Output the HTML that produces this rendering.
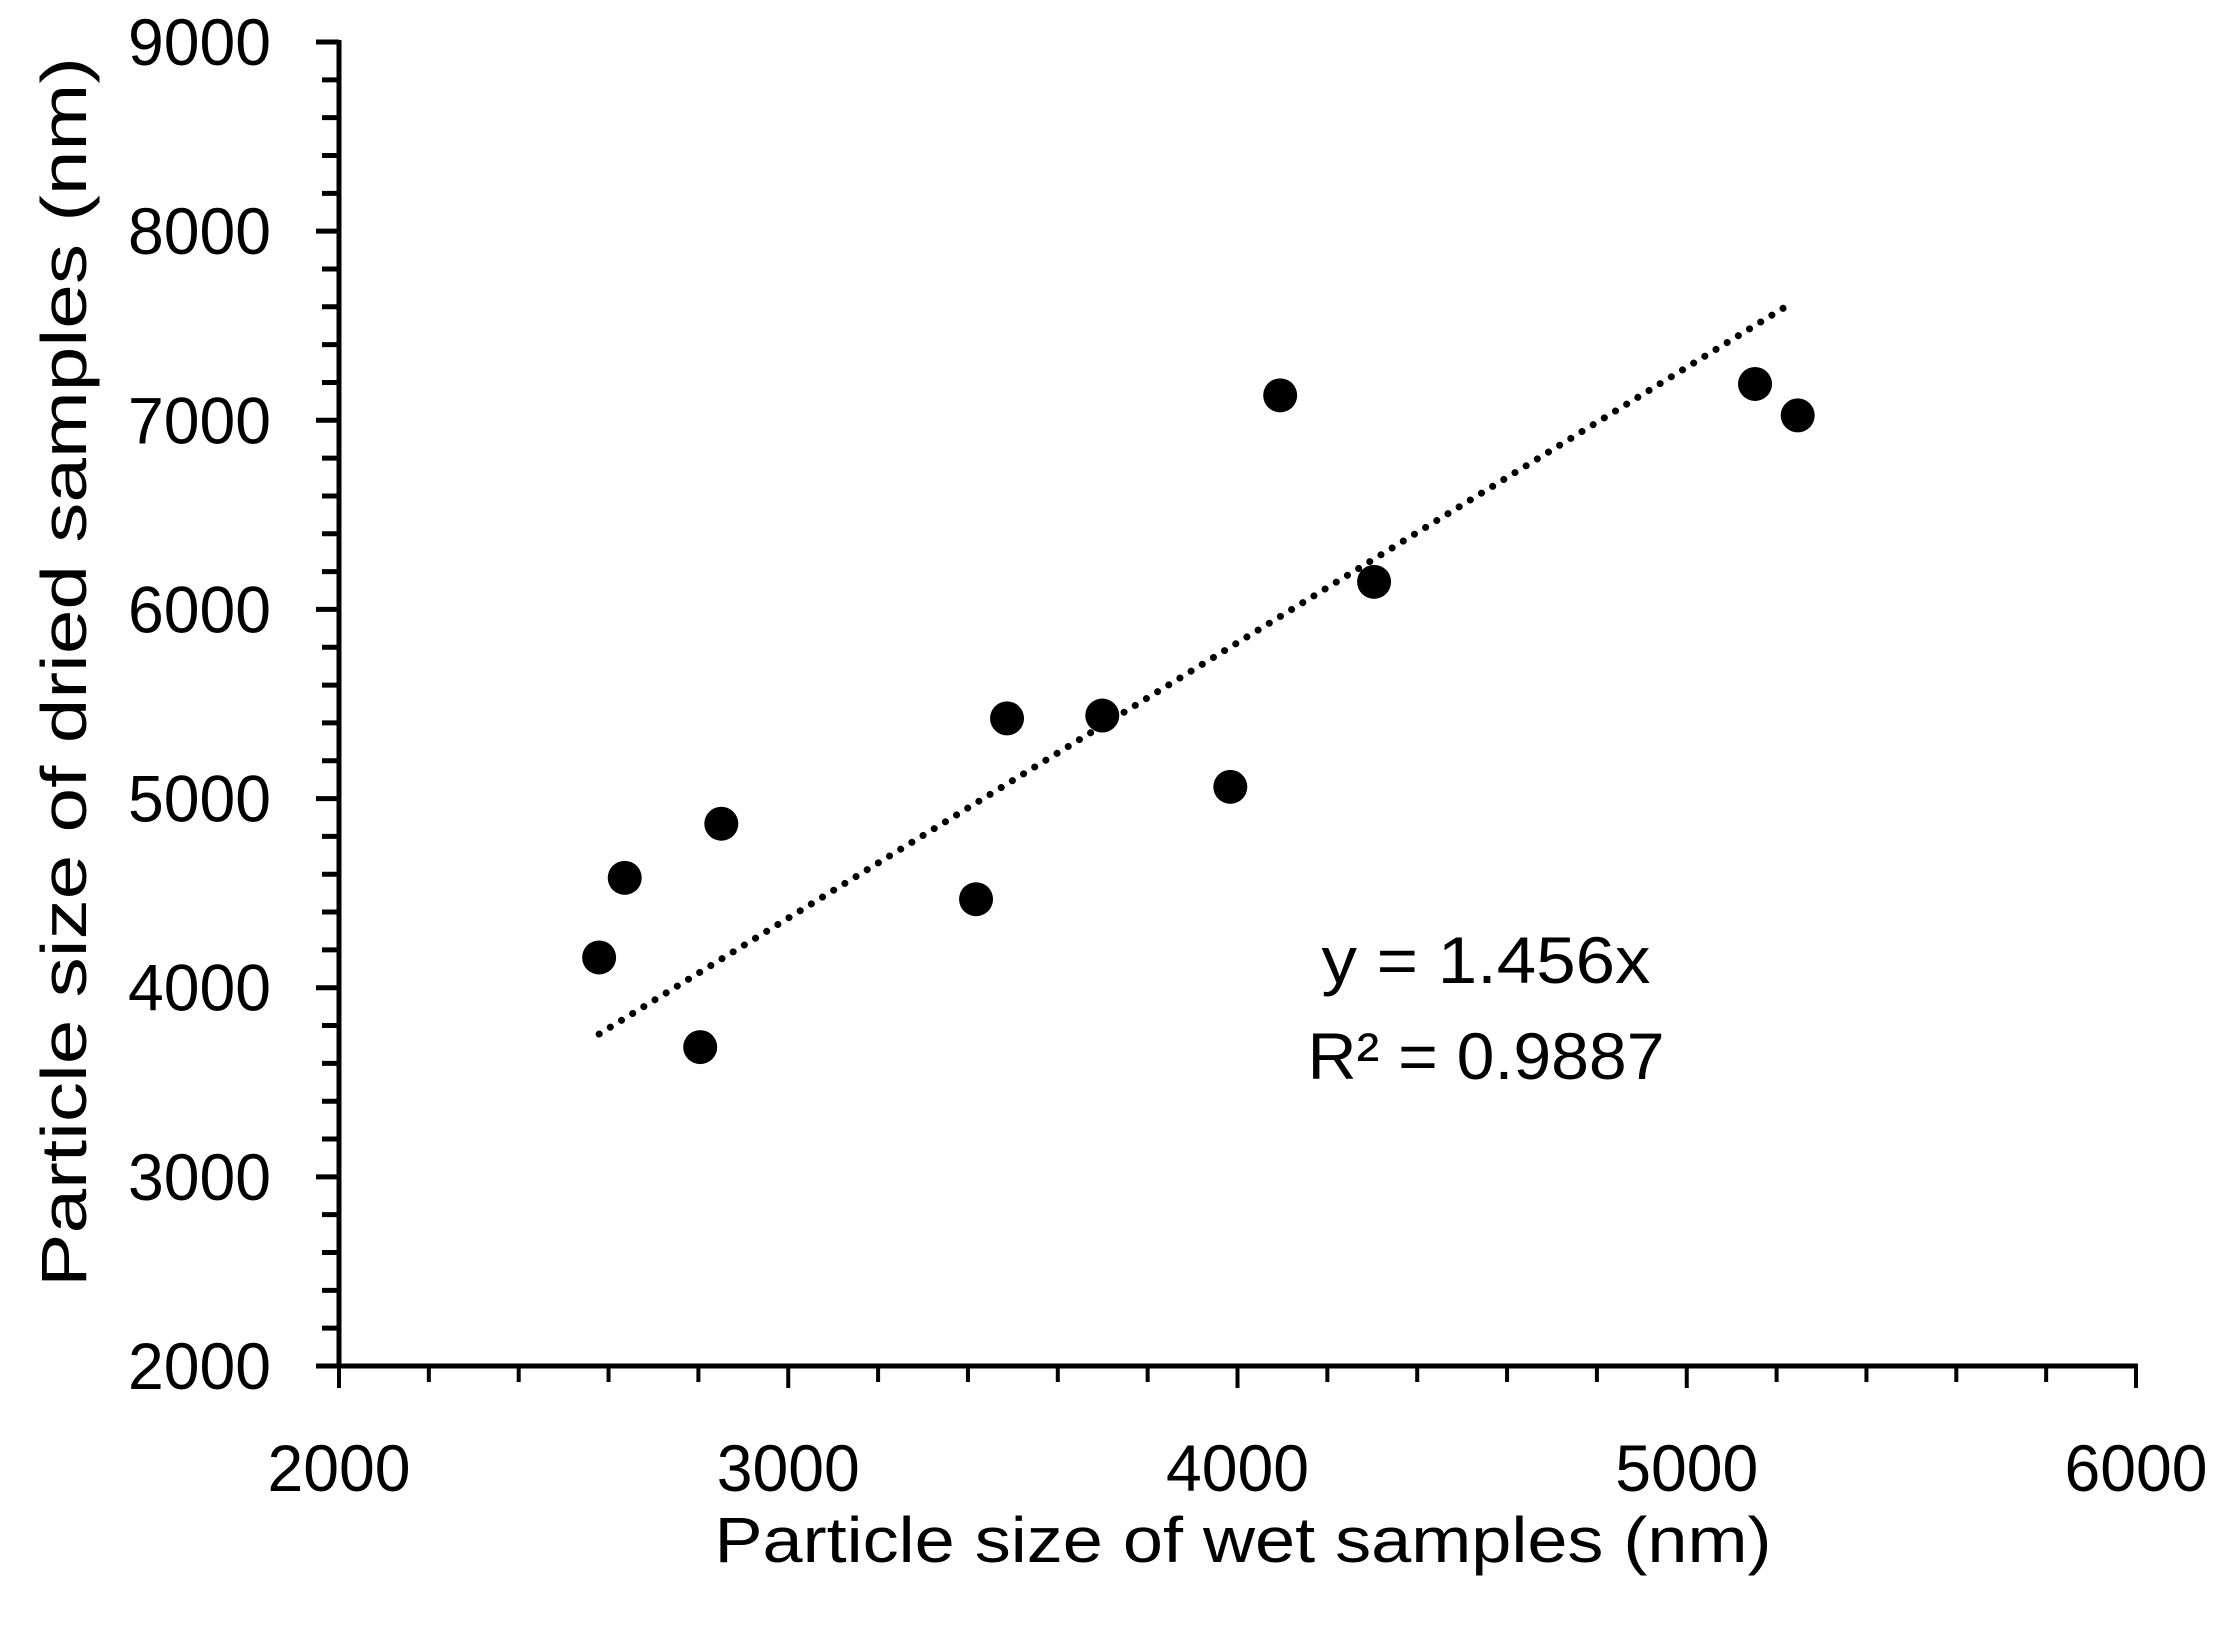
<!DOCTYPE html>
<html><head><meta charset="utf-8"><style>
html,body{margin:0;padding:0;background:#fff;}
svg text{font-family:"Liberation Sans",sans-serif;fill:#000;}
</style></head><body>
<svg id="chart" width="2229" height="1629" viewBox="0 0 2229 1629" xmlns="http://www.w3.org/2000/svg">
<g id="axes"></g>
<g id="trend"></g>
<g id="points"></g>
<text x="1243" y="1562" font-size="64" text-anchor="middle" textLength="1057" lengthAdjust="spacingAndGlyphs">Particle size of wet samples  (nm)</text>
<text x="0" y="0" font-size="64" text-anchor="middle" textLength="1230" lengthAdjust="spacingAndGlyphs" transform="translate(86,672) rotate(-90)">Particle size of dried samples  (nm)</text>
<text x="1486" y="983" font-size="66" text-anchor="middle" textLength="329" lengthAdjust="spacingAndGlyphs">y = 1.456x</text>
<text x="1486" y="1079" font-size="66" text-anchor="middle" textLength="357" lengthAdjust="spacingAndGlyphs">R² = 0.9887</text>
</svg>
<script>
const xValues = [2579, 2636, 2804, 2851, 3418, 3487, 3699, 3984, 4095, 4304, 5152, 5247];
const yValues = [4160, 4581, 3686, 4867, 4468, 5424, 5439, 5062, 7132, 6146, 7192, 7026];
const xTicks = [2000, 3000, 4000, 5000, 6000];
const yTicks = [2000, 3000, 4000, 5000, 6000, 7000, 8000, 9000];
const slope = 1.456;

const NS = "http://www.w3.org/2000/svg";
const X0 = 339, X1 = 2136, Y0 = 1366, Y1 = 42;
const sx = v => X0 + (v - 2000) / 4000 * (X1 - X0);
const sy = v => Y0 - (v - 2000) / 7000 * (Y0 - Y1);
function mk(tag, attrs, parent) {
  const e = document.createElementNS(NS, tag);
  for (const k in attrs) e.setAttribute(k, attrs[k]);
  parent.appendChild(e);
  return e;
}
const axes = document.getElementById('axes');
let l = mk('line', {x1: X0, y1: Y1 - 2, x2: X0, y2: Y0 + 2, stroke: '#000', 'stroke-width': 5}, axes);


l = mk('line', {x1: X0 - 2, y1: Y0, x2: X1 + 2, y2: Y0, stroke: '#000', 'stroke-width': 5}, axes);


for (let v = 2000; v <= 9000; v += 200) {
  const major = v % 1000 === 0;
  const t = mk('line', {x1: X0 - (major ? 23 : 17), y1: sy(v), x2: X0, y2: sy(v), stroke: '#000', 'stroke-width': 5}, axes);
  
  
}
for (let v = 2000; v <= 6000; v += 200) {
  const major = v % 1000 === 0;
  const t = mk('line', {x1: sx(v), y1: Y0, x2: sx(v), y2: Y0 + (major ? 22 : 16), stroke: '#000', 'stroke-width': 4}, axes);
  
  
}
yTicks.forEach(v => {
  const t = mk('text', {x: 271, y: sy(v) + 23, 'font-size': 66, 'text-anchor': 'end', textLength: 143, lengthAdjust: 'spacingAndGlyphs'}, axes);
  t.textContent = v;
  
  
});
xTicks.forEach(v => {
  const t = mk('text', {x: sx(v), y: 1491, 'font-size': 66, 'text-anchor': 'middle', textLength: 143, lengthAdjust: 'spacingAndGlyphs'}, axes);
  t.textContent = v;
  
  
});
const xmin = Math.min(...xValues), xmax = Math.max(...xValues) - 25;
const tr = mk('line', {x1: sx(xmin), y1: sy(slope * xmin), x2: sx(xmax), y2: sy(slope * xmax), stroke: '#000', 'stroke-width': 7, 'stroke-linecap': 'round', 'stroke-dasharray': '0.1 13'}, document.getElementById('trend'));


const pts = document.getElementById('points');
xValues.forEach((x, i) => {
  const c = mk('circle', {cx: sx(x), cy: sy(yValues[i]), r: 17, fill: '#000'}, pts);
  
  
});
</script>
</body></html>
